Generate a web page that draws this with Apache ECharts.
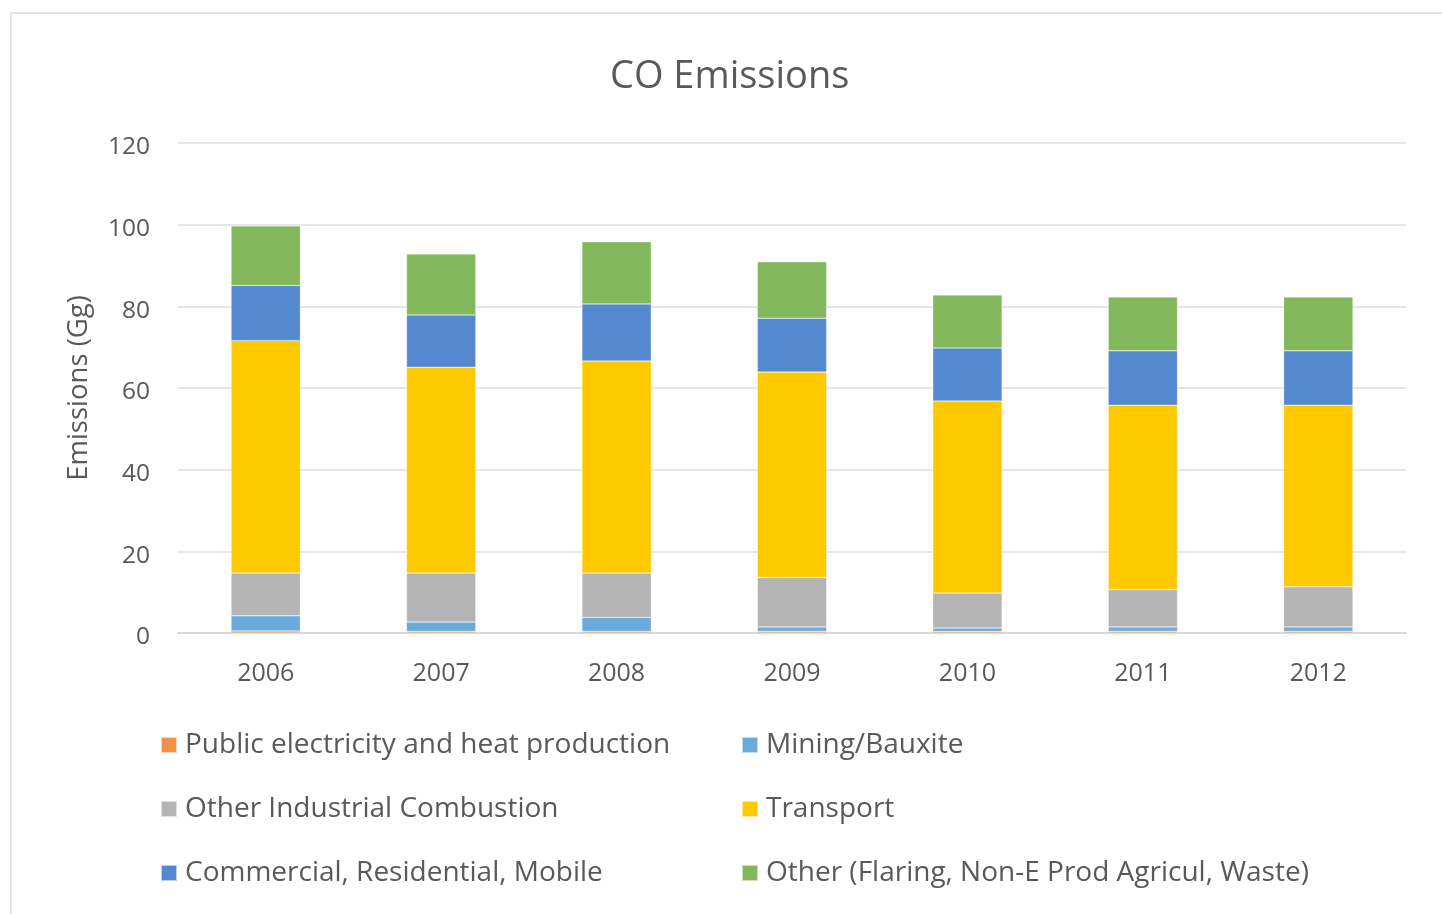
<!DOCTYPE html>
<html>
<head>
<meta charset="utf-8">
<title>CO Emissions</title>
<script src="https://cdn.jsdelivr.net/npm/echarts@6/dist/echarts.min.js"></script>
<style>
  html, body { margin: 0; padding: 0; background: #ffffff; }
  #chart { width: 1442px; height: 914px; }
</style>
</head>
<body>
<div id="chart"></div>
<script>
// Years on the category axis
const years = ['2006', '2007', '2008', '2009', '2010', '2011', '2012'];

// CO emissions by source sector (Gg)
const publicElectricity = [0.5, 0.4, 0.4, 0.4, 0.4, 0.4, 0.4];
const miningBauxite     = [3.7, 2.3, 3.4, 1.1, 0.8, 1.1, 1.1];
const otherIndustrial   = [10.5, 12.0, 10.9, 12.1, 8.6, 9.1, 9.8];
const transport         = [56.9, 50.4, 51.9, 50.3, 47.0, 45.2, 44.5];
const commercialResMob  = [13.5, 12.8, 14.0, 13.2, 13.0, 13.3, 13.3];
const otherSources      = [14.6, 14.9, 15.2, 13.8, 13.0, 13.2, 13.2];

// Value axis ticks
const yTicks = [0, 20, 40, 60, 80, 100, 120];

const seriesDefs = [
  { name: 'Public electricity and heat production', data: publicElectricity, color: '#F0914A' },
  { name: 'Mining/Bauxite', data: miningBauxite, color: '#6AABDC' },
  { name: 'Other Industrial Combustion', data: otherIndustrial, color: '#B4B4B4' },
  { name: 'Transport', data: transport, color: '#FFC900' },
  { name: 'Commercial, Residential, Mobile', data: commercialResMob, color: '#5589CF' },
  { name: 'Other (Flaring, Non-E Prod Agricul, Waste)', data: otherSources, color: '#82B85B' }
];

const font = '"Open Sans", "Noto Sans", sans-serif';
const textColor = '#595959';

// Two legend columns, three rows each
const legendCommon = {
  orient: 'vertical',
  top: 731,
  padding: 0,
  itemWidth: 16,
  itemHeight: 16,
  itemGap: 36,
  icon: 'rect',
  selectedMode: false,
  textStyle: { fontFamily: font, fontSize: 28, color: textColor, padding: [0, 0, 0, 3] }
};

const chart = echarts.init(document.getElementById('chart'));
chart.setOption({
  animation: false,
  backgroundColor: '#ffffff',
  graphic: [{
    type: 'rect',
    shape: { x: 11, y: 13, width: 1440, height: 910 },
    style: { fill: 'none', stroke: '#e3e3e3', lineWidth: 2 },
    silent: true
  }],
  title: {
    text: 'CO Emissions',
    left: 610,
    top: 58,
    padding: 0,
    textStyle: { fontFamily: font, fontSize: 38, fontWeight: 'normal', color: textColor }
  },
  legend: [
    Object.assign({}, legendCommon, {
      left: 160,
      data: [seriesDefs[0].name, seriesDefs[2].name, seriesDefs[4].name]
    }),
    Object.assign({}, legendCommon, {
      left: 741,
      data: [seriesDefs[1].name, seriesDefs[3].name, seriesDefs[5].name]
    })
  ],
  grid: { left: 178, right: 36, top: 143, bottom: 281, containLabel: false },
  xAxis: {
    type: 'category',
    data: years,
    axisLine: { show: true, lineStyle: { color: '#d9d9d9', width: 2 } },
    axisTick: { show: false },
    axisLabel: { fontFamily: font, fontSize: 25, color: textColor, margin: 28 }
  },
  yAxis: {
    type: 'value',
    name: 'Emissions (Gg)',
    nameLocation: 'middle',
    nameGap: 85,
    nameTextStyle: { fontFamily: font, fontSize: 27.5, color: textColor },
    min: yTicks[0],
    max: yTicks[yTicks.length - 1],
    interval: yTicks[1] - yTicks[0],
    axisLine: { show: false },
    axisTick: { show: false },
    axisLabel: {
      fontFamily: font, fontSize: 24.5, color: textColor, margin: 28,
      formatter: v => '{t|' + v + '}',
      rich: { t: { fontFamily: font, fontSize: 24.5, color: textColor, padding: [9, 0, 0, 0] } }
    },
    splitLine: { lineStyle: { color: '#e6e6e6', width: 2 } }
  },
  series: seriesDefs.map(s => ({
    name: s.name,
    type: 'bar',
    stack: 'total',
    data: s.data,
    barWidth: '39.5%',
    itemStyle: { color: s.color, borderColor: 'rgba(255,255,255,0.6)', borderWidth: 0.5 }
  }))
});
</script>
</body>
</html>
